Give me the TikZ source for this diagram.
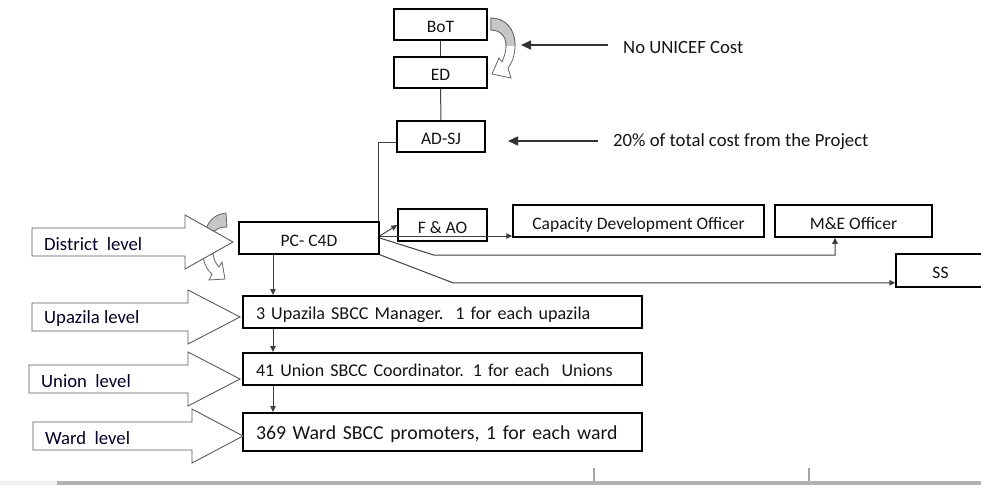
\documentclass[tikz,border=0pt]{standalone}
\usepackage{fontspec}
\setmainfont{Carlito}
\usetikzlibrary{arrows.meta}

% curved arrows beside the boxes
\newcommand{\edloop}{(491,18) .. controls (506,18) and (515,30) .. (515,45) .. controls (515,55) and (512,63) .. (508,68) -- (511,78) -- (492,74) -- (499,58) -- (502,62) .. controls (505,55) and (506,50) .. (506,45) .. controls (506,36) and (500,30) .. (491,30) -- cycle}

\begin{document}
\begin{tikzpicture}[x=1pt, y=-1pt,
    post/.style={draw=black, line width=1.5pt, minimum height=31pt, inner sep=0pt, text height=16pt, text depth=0pt, text=black!92, font=\fontsize{17.5}{20}\selectfont},
    levelbox/.style={draw=black, line width=1.9pt, minimum height=32pt, inner xsep=13pt, inner ysep=0pt, text width=373pt, align=left, text height=15pt, text depth=0pt, text=black!92},
    link/.style={draw=black!75, line width=1pt},
    linkarrow/.style={link, -{Triangle[length=6pt,width=5.5pt]}},
    notearrow/.style={draw=black!80, line width=1.4pt, -{Triangle[length=10pt,width=9pt]}},
    note/.style={anchor=west, inner xsep=15pt, text=black!92, font=\fontsize{18.7}{22}\selectfont},
    levelarrow/.style={fill=white, draw=black!65, line width=0.9pt},
    levellabel/.style={anchor=west, inner sep=0pt, text=black!85!blue, font=\fontsize{18.7}{22}\selectfont},
    curveback/.style={fill=gray!45, draw=black!60, line width=0.8pt},
    curvefront/.style={fill=white, draw=black!60, line width=0.8pt}]

    \useasboundingbox (0,0) rectangle (981,485);

    % Board and directors
    \node[post, minimum width=93pt] (bot) at (440.5,24.5) {BoT};
    \node[post, minimum width=93pt] (ed) at (440.5,72.5) {ED};
    \node[post, minimum width=88pt] (adsj) at (441,136.5) {AD-SJ};

    % District staff
    \node[post, minimum width=140pt, minimum height=32pt] (pc) at (309,238) {PC- C4D};
    \node[post, minimum width=89pt, minimum height=32pt] (fao) at (442.5,225) {F \& AO};
    \node[post, minimum width=251pt, minimum height=32pt] (cdo) at (638.5,221) {Capacity Development Officer};
    \node[post, minimum width=157pt, minimum height=32pt] (me) at (853.5,221) {M\&E Officer};
    \node[post, minimum width=89pt, minimum height=33pt] (ss) at (940.5,270.5) {SS};

    % Field staff
    \node[levelbox, font=\fontsize{18.1}{22}\selectfont] (upazila) at (442.5,312) {3 Upazila SBCC Manager.\ \ 1 for each upazila};
    \node[levelbox, font=\fontsize{18}{22}\selectfont] (union) at (442.5,369) {41 Union SBCC Coordinator. 1 for each\ \ Unions};
    \node[levelbox, minimum height=38pt, font=\fontsize{19.8}{24}\selectfont] (ward) at (442.5,432) {369 Ward SBCC promoters, 1 for each ward};

    % Curved arrow BoT to ED
    \filldraw[curvefront] \edloop;
    \begin{scope}
        \clip (480,0) rectangle (530,45);
        \filldraw[curveback] \edloop;
    \end{scope}

    % Curved arrow at district level
    \filldraw[curveback] (206,229) .. controls (209,220) and (216,214) .. (226,213) -- (227,227) .. controls (222,227) and (218,228) .. (215,231) -- cycle;
    \filldraw[curvefront] (203,255) .. controls (204,265) and (208,271) .. (212,274) -- (209,280) -- (225,279) -- (222,262) -- (219,267) .. controls (216,264) and (214,260) .. (213,254) -- cycle;

    % Level arrows
    \foreach \xa/\xb/\xc/\yc/\nm/\txt in {32/185/233/242/districtlevel/District\ \ level,
        32/188/240/317/upazilalevel/Upazila level,
        29/188/240/379/unionlevel/Union\ \ level,
        33/192/243/436/wardlevel/Ward\ \ level} {
        \filldraw[levelarrow] (\xa,\yc-14) -- (\xb,\yc-14) -- (\xb,\yc-27) -- (\xc,\yc) -- (\xb,\yc+27) -- (\xb,\yc+14) -- (\xa,\yc+14) -- cycle;
        \node[levellabel] (\nm) at (\xa+12,\yc+2) {\txt};
    }

    % Connectors
    \draw[link] (bot) -- (ed);
    \draw[link] (ed) -- (adsj);
    \draw[link] ([yshift=-6pt]adsj.west) -| ([xshift=-1pt]pc.north east);
    \draw[linkarrow] ([yshift=2pt]pc.east) -- (fao.west);
    \draw[linkarrow] ([yshift=2pt]pc.east) -- ([yshift=2pt]pc.east -| cdo.west);
    \draw[linkarrow] (pc.east) -- ++(54,17) -| ([xshift=-18.5pt]me.south);
    \draw[linkarrow] (pc.south east) -- ++(73,28) coordinate (ssbend) -- (ssbend -| ss.west);

    \coordinate (spine) at (273,0);
    \draw[linkarrow] (spine |- pc.south) -- (spine |- upazila.north);
    \draw[linkarrow] (spine |- upazila.south) -- (spine |- union.north);
    \draw[linkarrow] (spine |- union.south) -- (spine |- ward.north);

    % Cost notes
    \coordinate (unicefpt) at (521,45);
    \node[note] (nounicef) at (608,47) {No UNICEF Cost};
    \draw[notearrow] (nounicef.west |- unicefpt) -- (unicefpt);
    \coordinate (projectpt) at (508,141);
    \node[note] (project) at (598,142) {20\% of total cost from the Project};
    \draw[notearrow] (project.west |- projectpt) -- (projectpt);

    % Bottom rule
    \fill[gray!12] (0,481) rectangle (57,485);
    \fill[gray!60] (57,481) rectangle (981,485);
    \foreach \x in {594,809}
        \draw[gray!70, line width=1.2pt] (\x,468) -- (\x,481);
\end{tikzpicture}
\end{document}
